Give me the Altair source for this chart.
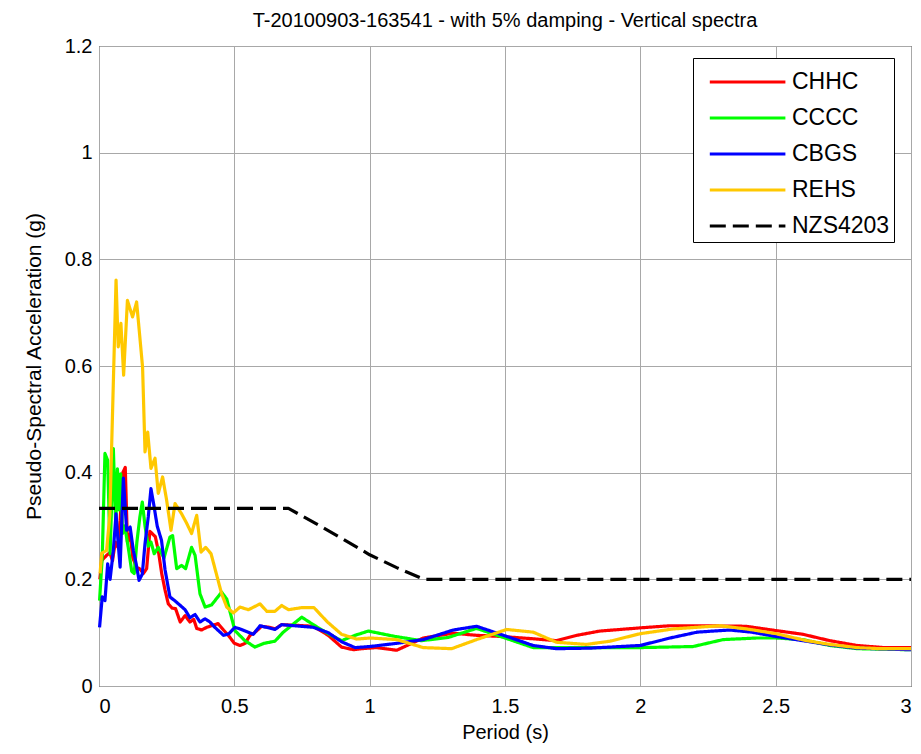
import altair as alt
import pandas as pd

# ---------------- data ----------------
series_names = ["CHHC", "CCCC", "CBGS", "REHS", "NZS4203"]

T_CHHC = [0.003, 0.010, 0.028, 0.040, 0.050, 0.060, 0.070, 0.078, 0.088, 0.097,
          0.105, 0.115, 0.125, 0.139, 0.150, 0.164, 0.176, 0.188, 0.198, 0.208,
          0.219, 0.232, 0.244, 0.256, 0.270, 0.283, 0.300, 0.318, 0.336, 0.350,
          0.361, 0.379, 0.398, 0.416, 0.440, 0.460, 0.478, 0.500, 0.521, 0.540,
          0.558, 0.575, 0.601, 0.630, 0.650, 0.675, 0.720, 0.792, 0.847, 0.896,
          0.940, 0.970, 1.026, 1.100, 1.198, 1.309, 1.395, 1.481, 1.592, 1.690,
          1.765, 1.850, 1.900, 2.000, 2.110, 2.210, 2.390, 2.500, 2.600, 2.700,
          2.800, 2.900, 3.000]
A_CHHC = [0.200, 0.235, 0.245, 0.250, 0.235, 0.270, 0.260, 0.310, 0.400, 0.410,
          0.270, 0.285, 0.240, 0.222, 0.220, 0.211, 0.220, 0.290, 0.285, 0.280,
          0.254, 0.210, 0.180, 0.154, 0.146, 0.145, 0.120, 0.132, 0.120, 0.125,
          0.108, 0.105, 0.110, 0.113, 0.117, 0.105, 0.095, 0.080, 0.076, 0.080,
          0.095, 0.100, 0.112, 0.110, 0.107, 0.115, 0.114, 0.112, 0.095, 0.073,
          0.068, 0.070, 0.072, 0.067, 0.090, 0.099, 0.095, 0.093, 0.089, 0.085,
          0.095, 0.103, 0.105, 0.109, 0.113, 0.113, 0.112, 0.104, 0.097, 0.085,
          0.076, 0.072, 0.072]

T_CCCC = [0.002, 0.012, 0.022, 0.032, 0.041, 0.053, 0.062, 0.068, 0.075, 0.080,
          0.087, 0.095, 0.108, 0.121, 0.130, 0.140, 0.151, 0.160, 0.170, 0.182,
          0.192, 0.204, 0.219, 0.240, 0.262, 0.272, 0.287, 0.305, 0.320, 0.342,
          0.355, 0.373, 0.392, 0.416, 0.453, 0.472, 0.502, 0.539, 0.576, 0.610,
          0.650, 0.681, 0.749, 0.798, 0.847, 0.896, 0.946, 0.995, 1.093, 1.192,
          1.290, 1.395, 1.506, 1.604, 1.690, 1.800, 2.000, 2.195, 2.306, 2.430,
          2.500, 2.600, 2.700, 2.800, 3.000]
A_CCCC = [0.160, 0.242, 0.436, 0.423, 0.248, 0.445, 0.298, 0.407, 0.330, 0.398,
          0.286, 0.300, 0.260, 0.215, 0.211, 0.270, 0.317, 0.345, 0.300, 0.262,
          0.270, 0.248, 0.260, 0.240, 0.279, 0.282, 0.220, 0.226, 0.220, 0.260,
          0.245, 0.173, 0.148, 0.152, 0.176, 0.163, 0.104, 0.085, 0.073, 0.080,
          0.084, 0.101, 0.129, 0.113, 0.098, 0.085, 0.095, 0.103, 0.093, 0.085,
          0.091, 0.108, 0.089, 0.072, 0.072, 0.072, 0.072, 0.074, 0.087, 0.090,
          0.090, 0.087, 0.076, 0.070, 0.068]

T_CBGS = [0.002, 0.012, 0.022, 0.032, 0.041, 0.053, 0.063, 0.070, 0.078, 0.090,
          0.102, 0.115, 0.127, 0.137, 0.148, 0.160, 0.170, 0.182, 0.192, 0.204,
          0.215, 0.231, 0.244, 0.262, 0.280, 0.298, 0.318, 0.336, 0.355, 0.373,
          0.392, 0.410, 0.428, 0.460, 0.480, 0.502, 0.521, 0.570, 0.595, 0.650,
          0.675, 0.792, 0.847, 0.896, 0.946, 1.000, 1.100, 1.198, 1.309, 1.395,
          1.506, 1.604, 1.690, 1.814, 2.000, 2.110, 2.210, 2.330, 2.410, 2.500,
          2.600, 2.700, 2.800, 3.000]
A_CBGS = [0.110, 0.167, 0.160, 0.229, 0.200, 0.254, 0.323, 0.273, 0.223, 0.390,
          0.292, 0.298, 0.254, 0.230, 0.198, 0.210, 0.267, 0.317, 0.370, 0.335,
          0.300, 0.273, 0.218, 0.167, 0.160, 0.152, 0.143, 0.128, 0.134, 0.120,
          0.126, 0.120, 0.110, 0.095, 0.098, 0.110, 0.107, 0.097, 0.113, 0.106,
          0.115, 0.110, 0.100, 0.083, 0.072, 0.074, 0.080, 0.087, 0.105, 0.112,
          0.093, 0.076, 0.070, 0.071, 0.076, 0.090, 0.101, 0.105, 0.101, 0.093,
          0.085, 0.077, 0.071, 0.068]

T_REHS = [0.004, 0.010, 0.028, 0.040, 0.063, 0.071, 0.081, 0.091, 0.105, 0.124,
          0.139, 0.161, 0.170, 0.180, 0.192, 0.207, 0.219, 0.235, 0.250, 0.266,
          0.281, 0.305, 0.324, 0.342, 0.361, 0.377, 0.394, 0.414, 0.453, 0.472,
          0.496, 0.521, 0.552, 0.595, 0.620, 0.650, 0.675, 0.700, 0.749, 0.794,
          0.844, 0.896, 0.952, 1.001, 1.100, 1.198, 1.303, 1.395, 1.506, 1.604,
          1.690, 1.800, 1.888, 1.999, 2.121, 2.294, 2.393, 2.503, 2.614, 2.700,
          2.800, 2.885, 3.000]
A_REHS = [0.211, 0.249, 0.254, 0.320, 0.761, 0.636, 0.680, 0.583, 0.723, 0.692,
          0.720, 0.598, 0.439, 0.476, 0.408, 0.427, 0.361, 0.392, 0.348, 0.292,
          0.342, 0.323, 0.305, 0.286, 0.320, 0.251, 0.260, 0.248, 0.173, 0.148,
          0.137, 0.148, 0.143, 0.154, 0.140, 0.140, 0.151, 0.143, 0.147, 0.147,
          0.120, 0.097, 0.088, 0.090, 0.087, 0.072, 0.070, 0.087, 0.106, 0.101,
          0.082, 0.078, 0.084, 0.098, 0.107, 0.113, 0.107, 0.098, 0.085, 0.078,
          0.072, 0.070, 0.070]

T_NZS = [0.0, 0.7, 0.8, 0.9, 1.0, 1.1, 1.2, 3.0]
A_NZS = [0.333, 0.333, 0.305, 0.276, 0.246, 0.222, 0.200, 0.200]

x_ticks = [0, 0.5, 1, 1.5, 2, 2.5, 3]
y_ticks = [0, 0.2, 0.4, 0.6, 0.8, 1.0, 1.2]

# ---------------- table ----------------
rows = []
for name, ts, vs in [("CHHC", T_CHHC, A_CHHC), ("CCCC", T_CCCC, A_CCCC),
                     ("CBGS", T_CBGS, A_CBGS), ("REHS", T_REHS, A_REHS),
                     ("NZS4203", T_NZS, A_NZS)]:
    for t, v in zip(ts, vs):
        rows.append({"series": name, "period": t, "psa": v})
df = pd.DataFrame(rows)

colors = ["#ff0000", "#00ff00", "#0000ff", "#ffc800", "#000000"]
dashes = [[1, 0], [1, 0], [1, 0], [1, 0], [16, 7]]
widths = [3.2, 3.2, 3.2, 3.2, 5]

FONT = "Liberation Sans"

legend_kw = dict(title=None, orient="none", legendX=594, legendY=12)

enc = dict(
    x=alt.X("period:Q", scale=alt.Scale(domain=[0, 3], nice=False),
            axis=alt.Axis(values=x_ticks, format="~g", title="Period (s)")),
    y=alt.Y("psa:Q", scale=alt.Scale(domain=[0, 1.2], nice=False),
            axis=alt.Axis(values=y_ticks, format="~g",
                          title="Pseudo-Spectral Acceleration (g)")),
    color=alt.Color("series:N", scale=alt.Scale(domain=series_names, range=colors),
                    legend=alt.Legend(**legend_kw)),
    strokeDash=alt.StrokeDash("series:N", scale=alt.Scale(domain=series_names, range=dashes),
                              legend=alt.Legend(**legend_kw)),
    strokeWidth=alt.StrokeWidth("series:N", scale=alt.Scale(domain=series_names, range=widths),
                                legend=alt.Legend(**legend_kw)),
)

base = alt.Chart(df)
layers = [
    base.transform_filter(alt.datum.series == s)
        .mark_line(strokeJoin="round", strokeCap="butt")
        .encode(**enc)
    for s in series_names
]

chart = (
    alt.layer(*layers)
    .properties(
        width=812, height=640,
        title=alt.TitleParams("T-20100903-163541 - with 5% damping - Vertical spectra",
                              font=FONT, fontSize=20, fontWeight="normal",
                              color="black", offset=5),
        autosize=alt.AutoSizeParams(type="none"),
        padding={"left": 91, "top": 38, "right": 2, "bottom": 58},
    )
    .configure_view(stroke="black", strokeWidth=1)
    .configure_axis(
        grid=True, gridColor="#a8a8a8", gridWidth=1, gridOpacity=1,
        domain=False, ticks=False,
        labelFont=FONT, labelFontSize=20, labelColor="black",
        titleFont=FONT, titleFontSize=20, titleFontWeight="normal", titleColor="black",
    )
    .configure_axisX(labelPadding=10, titlePadding=6)
    .configure_axisY(labelPadding=7, titlePadding=20, titleFontSize=21)
    .configure_legend(
        strokeColor="black", fillColor="white", padding=4, cornerRadius=0,
        symbolType="M-0.4,0H3.8", symbolSize=1296, symbolStrokeWidth=3,
        labelFont=FONT, labelFontSize=23, labelColor="black", labelOffset=55,
        rowPadding=4, labelLimit=300,
    )
)

chart.save("out.html", embed_options={"renderer": "svg", "actions": False})
